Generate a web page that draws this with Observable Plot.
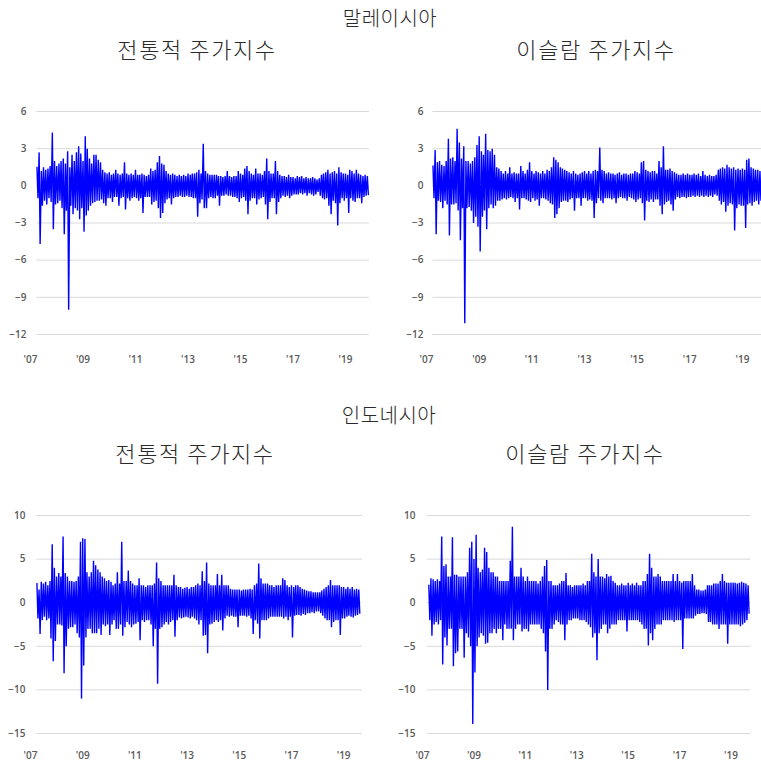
<!DOCTYPE html>
<html>
<head>
<meta charset="utf-8">
<script src="https://cdn.jsdelivr.net/npm/d3@7"></script>
<script src="https://cdn.jsdelivr.net/npm/@observablehq/plot@0.6"></script>
<style>
html, body { margin: 0; padding: 0; background: #ffffff; overflow: hidden; }
#root { position: relative; width: 761px; height: 765px; overflow: hidden; }
.t { position: absolute; transform: translate(-50%, -50%); white-space: nowrap;
     font-family: "Noto Sans CJK KR", "Noto Sans", sans-serif; color: #2a2a2a; line-height: 1; font-weight: 300; }
.ttl { font-size: 20px; letter-spacing: 0.5px; }
.sub { font-size: 22px; letter-spacing: 1.6px; }
.panel { position: absolute; }
.panel svg { max-width: none !important; display: block; }
</style>
</head>
<body>
<div id="root">
  <div class="t ttl" style="left:390px; top:18px;">말레이시아</div>
  <div class="t sub" style="left:197px; top:48px;">전통적 주가지수</div>
  <div class="t sub" style="left:596px; top:48px;">이슬람 주가지수</div>
  <div class="t ttl" style="left:389px; top:415px;">인도네시아</div>
  <div class="t sub" style="left:195px; top:452px;">전통적 주가지수</div>
  <div class="t sub" style="left:585px; top:452px;">이슬람 주가지수</div>
  <div class="panel" id="p1" style="left:0px; top:90px; width:380px; height:280px;"></div>
  <div class="panel" id="p2" style="left:390px; top:90px; width:390px; height:280px;"></div>
  <div class="panel" id="p3" style="left:0px; top:495px; width:380px; height:270px;"></div>
  <div class="panel" id="p4" style="left:390px; top:495px; width:380px; height:270px;"></div>
</div>
<script>
// Monthly extremes of daily returns (%), first value = April 2007.
// Malaysia – conventional index
const myConvUp = [
  1.5, 2.7, 1.2, 1.5, 1.3, 1.4, 1.6, 4.3, 2.0,
  1.6, 1.8, 2.0, 2.2, 1.8, 2.8, 1.5, 2.5, 2.0, 2.7, 3.2, 2.6,
  2.0, 4.0, 3.0, 2.2, 1.8, 2.5, 2.5, 2.1, 1.9, 1.3, 1.1, 1.0,
  1.1, 0.9, 1.0, 1.3, 1.0, 0.9, 1.0, 1.9, 1.0, 0.9, 1.0, 0.9,
  1.3, 0.9, 0.9, 1.0, 0.9, 0.8, 0.9, 1.4, 1.2, 1.3, 1.9, 2.4,
  1.8, 1.7, 1.2, 1.0, 0.9, 1.0, 0.9, 0.8, 0.9, 0.8, 0.9, 0.8,
  1.0, 0.9, 1.0, 1.0, 1.1, 1.3, 1.0, 3.4, 1.2, 1.0, 0.9, 0.9,
  0.9, 0.9, 0.8, 0.8, 0.7, 0.8, 1.2, 0.8, 0.7, 0.8, 0.8, 1.2,
  1.0, 0.9, 1.4, 1.6, 1.2, 1.0, 0.9, 1.4, 1.0, 1.0, 0.9, 1.2,
  2.2, 1.2, 1.0, 1.0, 2.0, 1.2, 0.9, 0.8, 0.8, 0.7, 0.9, 0.7,
  0.7, 0.6, 0.8, 0.7, 0.8, 0.6, 0.7, 0.6, 0.6, 0.7, 0.6, 0.5,
  0.6, 0.9, 1.0, 1.1, 1.3, 1.0, 1.1, 1.2, 1.0, 1.5, 1.1, 1.0,
  1.0, 0.9, 1.3, 1.2, 1.0, 1.3, 1.0, 0.9, 0.8, 0.9, 0.8
];
const myConvDown = [
  -1.0, -4.7, -1.6, -1.2, -1.5, -1.0, -1.3, -3.5, -1.5,
  -1.4, -1.2, -1.8, -3.9, -2.0, -10.0, -1.6, -2.3, -1.8, -2.0, -2.7, -1.8,
  -3.7, -2.4, -2.0, -1.6, -1.4, -1.3, -1.2, -1.2, -1.1, -1.4, -1.6, -1.0,
  -1.0, -1.3, -0.9, -0.9, -1.6, -1.0, -0.9, -1.9, -1.0, -1.2, -1.0, -0.9,
  -1.0, -1.2, -1.0, -2.2, -0.9, -0.9, -0.9, -1.5, -1.3, -1.2, -1.8, -2.6,
  -2.2, -1.4, -1.1, -1.0, -1.5, -1.0, -0.9, -0.9, -0.8, -0.9, -0.9, -0.8,
  -0.9, -0.9, -1.0, -1.0, -2.5, -1.4, -1.1, -1.8, -1.8, -1.0, -0.9, -1.0,
  -1.0, -0.8, -1.6, -0.8, -0.8, -0.7, -0.8, -0.8, -0.9, -0.9, -1.0, -1.3,
  -1.0, -0.9, -1.2, -2.3, -1.2, -1.0, -1.0, -1.5, -1.1, -1.0, -0.9, -1.5,
  -2.7, -1.3, -1.0, -1.0, -2.3, -1.3, -1.0, -0.8, -0.9, -0.8, -1.0, -0.8,
  -0.7, -0.7, -0.7, -0.6, -0.7, -0.6, -0.8, -0.6, -0.7, -0.8, -0.7, -0.5,
  -0.8, -1.0, -1.1, -1.0, -1.6, -2.3, -1.2, -1.4, -3.2, -1.4, -1.0, -1.2,
  -1.0, -2.2, -1.0, -1.2, -1.3, -1.0, -1.0, -1.4, -0.9, -0.8, -0.7
];
// Malaysia – Islamic index
const myIslUp = [
  1.6, 2.9, 1.9, 2.0, 1.7, 1.6, 2.0, 3.8, 2.2,
  2.3, 2.0, 4.6, 3.5, 2.2, 3.2, 2.0, 2.0, 1.8, 2.0, 2.3, 3.3,
  4.0, 2.8, 2.5, 4.2, 2.9, 2.8, 3.0, 2.5, 1.5, 1.4, 1.2, 1.0,
  1.2, 1.0, 1.5, 1.0, 1.1, 1.0, 1.0, 1.6, 1.2, 1.0, 1.3, 1.9,
  1.2, 1.0, 1.2, 1.1, 1.0, 1.2, 1.0, 1.3, 1.2, 1.5, 2.3, 2.1,
  1.9, 1.5, 1.4, 1.3, 1.2, 1.1, 1.0, 1.2, 1.0, 0.9, 1.0, 1.1,
  1.2, 1.0, 1.2, 1.0, 1.2, 1.3, 1.2, 3.1, 1.3, 1.2, 1.0, 1.1,
  1.0, 1.0, 0.9, 1.0, 1.1, 0.9, 1.0, 1.0, 0.9, 1.0, 1.0, 1.2,
  1.1, 1.0, 1.9, 2.0, 1.3, 1.2, 1.1, 1.2, 1.2, 1.0, 2.0, 1.5,
  3.2, 1.3, 1.3, 1.4, 1.2, 1.1, 1.0, 0.9, 0.9, 1.0, 0.9, 1.0,
  0.9, 0.9, 1.0, 0.9, 1.0, 0.8, 1.2, 0.9, 0.8, 0.9, 0.8, 0.8,
  0.9, 1.3, 1.4, 1.5, 1.4, 1.7, 1.5, 1.4, 1.5, 1.3, 1.4, 1.3,
  1.4, 1.3, 2.1, 2.2, 1.5, 1.4, 1.3, 1.3, 1.2, 1.2, 1.1
];
const myIslDown = [
  -1.0, -3.9, -1.2, -1.3, -1.8, -1.2, -1.5, -4.0, -1.5,
  -1.5, -1.4, -2.0, -4.4, -1.8, -11.1, -1.8, -1.7, -2.0, -3.0, -2.5, -3.3,
  -5.3, -2.5, -2.0, -3.5, -1.8, -1.5, -1.8, -1.6, -1.2, -1.2, -1.1, -1.0,
  -1.1, -1.0, -0.9, -1.0, -1.3, -1.0, -1.9, -1.0, -1.0, -1.1, -1.2, -1.3,
  -1.0, -1.2, -1.1, -1.6, -1.0, -1.0, -1.1, -1.2, -1.4, -1.5, -2.6, -2.3,
  -1.8, -1.3, -1.2, -1.2, -1.3, -1.1, -1.0, -2.0, -1.0, -1.0, -1.6, -1.0,
  -1.0, -1.2, -1.1, -1.2, -2.6, -1.4, -1.0, -1.2, -1.4, -1.0, -1.0, -1.0,
  -1.1, -1.0, -1.4, -1.0, -0.9, -1.0, -1.0, -1.2, -0.9, -1.0, -1.1, -1.3,
  -1.1, -1.0, -1.4, -2.8, -1.2, -1.3, -1.1, -1.3, -1.1, -1.1, -1.6, -2.3,
  -1.5, -1.3, -1.2, -1.5, -2.0, -1.1, -0.9, -1.0, -0.9, -0.9, -1.0, -0.9,
  -0.9, -0.8, -0.9, -0.8, -0.9, -0.8, -0.9, -0.8, -0.9, -0.8, -0.9, -0.7,
  -0.8, -1.2, -1.5, -1.3, -2.1, -1.6, -1.4, -1.5, -3.6, -1.8, -1.5, -1.6,
  -1.6, -3.4, -1.5, -1.4, -1.6, -1.3, -1.2, -1.5, -1.2, -1.1, -1.0
];
// Indonesia – conventional index
const idConvUp = [
  2.2, 1.5, 2.4, 2.2, 2.4, 2.0, 2.5, 6.7, 4.0,
  3.0, 3.4, 3.0, 7.6, 3.4, 3.0, 2.5, 2.5, 2.4, 2.5, 3.0, 7.0,
  7.4, 7.3, 3.5, 3.0, 3.5, 4.8, 4.3, 3.8, 3.5, 3.0, 2.8, 2.5,
  2.6, 2.4, 2.0, 2.2, 3.5, 2.2, 7.0, 2.5, 2.5, 3.7, 2.5, 2.2,
  2.0, 2.0, 2.8, 2.0, 2.0, 1.8, 2.0, 2.0, 2.0, 2.2, 4.6, 2.8,
  2.5, 2.0, 2.0, 2.0, 2.0, 2.0, 3.2, 2.0, 1.8, 1.8, 1.6, 1.7,
  1.8, 1.6, 1.8, 1.8, 2.0, 2.2, 2.0, 3.6, 2.5, 4.6, 2.2, 2.0,
  2.0, 2.0, 3.3, 2.0, 3.2, 2.0, 2.0, 2.0, 1.6, 1.5, 1.5, 1.5,
  1.5, 1.4, 1.5, 1.5, 1.5, 1.6, 1.5, 2.0, 2.2, 4.5, 2.8, 2.2,
  2.2, 2.2, 2.0, 2.0, 1.8, 2.0, 2.0, 2.0, 2.8, 2.6, 2.0, 1.8,
  2.0, 1.8, 2.0, 2.0, 1.8, 1.6, 1.5, 1.4, 1.3, 1.3, 1.2, 1.2,
  1.2, 1.2, 1.4, 1.6, 1.8, 2.0, 2.6, 2.0, 2.0, 2.0, 2.0, 1.8,
  1.8, 1.6, 1.8, 1.6, 1.8, 1.5, 1.6, 1.5
];
const idConvDown = [
  -1.8, -3.6, -2.0, -1.6, -2.0, -1.8, -4.1, -6.7, -4.4,
  -2.5, -2.5, -2.6, -8.1, -5.0, -3.0, -2.8, -2.8, -2.5, -3.5, -4.0, -11.0,
  -7.2, -4.0, -3.0, -3.0, -3.5, -3.5, -3.5, -3.0, -3.7, -2.5, -2.7, -2.5,
  -3.7, -2.5, -2.0, -3.0, -3.0, -2.5, -3.8, -2.8, -2.2, -2.5, -2.8, -2.5,
  -2.4, -2.2, -4.3, -2.0, -2.2, -2.0, -2.0, -2.5, -5.0, -3.0, -9.3, -3.0,
  -2.8, -2.5, -2.2, -2.5, -2.2, -2.0, -3.9, -2.0, -1.7, -1.8, -1.7, -1.6,
  -1.7, -1.8, -1.6, -1.8, -2.0, -2.5, -2.0, -3.8, -3.7, -5.8, -2.5, -2.4,
  -2.2, -2.0, -2.2, -2.0, -3.2, -1.8, -1.5, -1.6, -1.5, -1.6, -1.6, -2.8,
  -1.5, -1.5, -1.5, -1.6, -1.5, -1.8, -3.6, -2.0, -2.4, -4.1, -2.0, -2.0,
  -2.0, -1.8, -1.6, -1.6, -1.6, -1.6, -1.6, -1.6, -1.8, -1.6, -2.0, -1.6,
  -4.0, -1.5, -1.4, -1.4, -1.5, -1.3, -1.4, -1.2, -1.2, -1.1, -1.2, -1.0,
  -1.0, -1.2, -1.5, -1.8, -2.0, -2.0, -2.8, -2.2, -2.0, -2.0, -3.7, -1.8,
  -1.8, -1.6, -1.5, -1.6, -1.7, -1.5, -1.4, -1.2
];
// Indonesia – Islamic index
const idIslUp = [
  2.0, 2.8, 2.7, 2.5, 2.7, 2.5, 7.6, 4.2, 4.4,
  3.0, 3.0, 7.5, 3.2, 3.2, 3.0, 3.0, 3.0, 3.0, 3.5, 6.3, 7.0,
  5.0, 7.8, 4.0, 3.5, 3.8, 6.3, 5.8, 4.0, 3.5, 3.5, 3.0, 3.0,
  2.5, 2.5, 2.5, 2.5, 2.5, 4.8, 8.7, 3.0, 3.0, 3.0, 4.0, 3.0,
  2.5, 3.0, 2.5, 2.5, 2.5, 2.5, 2.2, 2.5, 3.0, 4.2, 4.9, 2.5,
  2.5, 2.0, 2.0, 2.0, 2.2, 2.5, 2.5, 3.4, 2.0, 2.0, 1.8, 2.0,
  2.0, 2.0, 2.0, 2.2, 2.0, 2.5, 2.5, 5.6, 3.5, 3.0, 5.0, 3.0,
  3.0, 2.8, 3.3, 3.0, 3.1, 2.5, 2.3, 2.0, 2.0, 2.2, 2.0, 2.0,
  2.3, 2.0, 2.2, 2.0, 2.3, 2.0, 2.0, 2.5, 2.5, 3.3, 5.6, 4.0,
  3.0, 3.0, 3.3, 3.0, 2.5, 2.5, 2.5, 2.5, 2.5, 3.3, 2.5, 3.3,
  2.5, 2.3, 2.5, 2.5, 2.5, 2.5, 3.3, 2.0, 1.5, 1.5, 1.4, 1.4,
  1.5, 2.0, 2.0, 2.0, 2.2, 2.2, 2.2, 2.5, 3.3, 2.5, 2.3, 2.3,
  2.3, 2.3, 2.3, 2.2, 2.3, 2.4, 2.3, 2.2, 2.0
];
const idIslDown = [
  -2.0, -3.8, -2.5, -2.2, -2.5, -2.0, -7.1, -4.0, -4.9,
  -3.0, -3.0, -7.3, -5.8, -5.6, -3.0, -3.0, -6.3, -3.5, -4.0, -5.0, -13.9,
  -8.0, -5.0, -4.0, -3.5, -3.8, -4.7, -4.6, -3.5, -3.5, -3.0, -3.5, -3.0,
  -3.0, -4.3, -2.5, -3.0, -3.0, -3.0, -4.3, -3.0, -2.5, -2.5, -3.3, -3.0,
  -3.0, -3.3, -2.5, -2.5, -2.5, -2.5, -2.5, -3.0, -3.5, -5.6, -10.0, -3.0,
  -3.0, -2.5, -2.0, -2.2, -2.5, -2.5, -4.3, -2.5, -2.0, -2.0, -1.8, -1.8,
  -1.8, -2.0, -2.0, -2.0, -2.2, -2.5, -2.8, -4.0, -3.5, -6.6, -3.5, -3.0,
  -2.5, -2.5, -3.5, -3.0, -2.5, -2.5, -2.5, -2.0, -2.0, -2.0, -2.0, -3.3,
  -2.0, -2.0, -2.0, -2.0, -2.0, -2.2, -2.5, -3.0, -3.0, -4.9, -3.5, -4.3,
  -3.0, -2.5, -2.5, -2.5, -2.0, -2.0, -2.0, -2.0, -2.0, -2.2, -2.0, -2.0,
  -2.0, -5.3, -1.8, -1.8, -1.8, -1.8, -1.8, -1.5, -1.3, -1.3, -1.2, -1.2,
  -1.3, -2.2, -2.2, -2.5, -2.5, -2.5, -3.0, -2.5, -2.5, -2.5, -4.7, -2.5,
  -2.5, -2.5, -2.5, -2.5, -2.7, -2.5, -2.3, -2.0, -1.2
];

const myTicks = [6, 3, 0, -3, -6, -9, -12];
const idTicks = [10, 5, 0, -5, -10, -15];
const yearTicks = [2007, 2009, 2011, 2013, 2015, 2017, 2019];

const U = (y, m, d) => new Date(Date.UTC(y, m, d));

function rows(up, down) {
  const out = [];
  up.forEach((u, i) => {
    out.push({date: U(2007, 3 + i, 1), value: u});
    out.push({date: U(2007, 3 + i, 15), value: down[i]});
  });
  return out;
}

function panel(id, o) {
  const data = rows(o.up, o.down);
  const chart = Plot.plot({
    width: o.width, height: o.height,
    marginTop: o.mt, marginBottom: o.mb, marginLeft: o.ml, marginRight: o.mr,
    style: {fontFamily: "'Open Sans', sans-serif", fontSize: "10px", color: "#5a5a5a",
            background: "transparent", overflow: "visible"},
    x: {type: "utc", domain: [U(2007, 0, 1), U(2019, 11, 1)], label: null},
    y: {domain: o.yDomain, label: null},
    marks: [
      Plot.ruleY(o.yTicks, {x1: () => o.gridStart, x2: () => o.gridEnd, stroke: "#d9d9d9", strokeWidth: 1}),
      Plot.line(data, {x: "date", y: "value", stroke: "#0000ff", strokeWidth: 1.4, strokeLinejoin: "miter", strokeMiterlimit: 1}),
      Plot.axisY({ticks: o.yTicks, tickSize: 0, tickPadding: o.pad, label: null, fontSize: 10, fontWeight: 600}),
      Plot.axisX({ticks: yearTicks.map(y => U(y, 0, 1)), tickSize: 0, tickPadding: o.xpad, label: null, fontSize: 10,
                  fontWeight: 600, tickFormat: d => "'" + String(d.getUTCFullYear()).slice(2)})
    ]
  });
  chart.style.maxWidth = "none";
  document.getElementById(id).appendChild(chart);
}

panel("p1", {up: myConvUp, down: myConvDown, width: 380, height: 280, mt: 21, mb: 36, ml: 30, mr: 11,
  yDomain: [-12, 6], yTicks: myTicks, pad: 4, xpad: 21, gridStart: U(2007, 3, 1), gridEnd: U(2019, 11, 1)});
panel("p2", {up: myIslUp, down: myIslDown, width: 390, height: 280, mt: 21, mb: 36, ml: 36, mr: 14,
  yDomain: [-12, 6], yTicks: myTicks, pad: 3, xpad: 21, gridStart: U(2007, 3, 1), gridEnd: U(2019, 11, 1)});
panel("p3", {up: idConvUp, down: idConvDown, width: 380, height: 270, mt: 20, mb: 32, ml: 30, mr: 13,
  yDomain: [-15, 10], yTicks: idTicks, pad: 5, xpad: 18, gridStart: U(2007, 3, 1), gridEnd: U(2019, 8, 20)});
panel("p4", {up: idIslUp, down: idIslDown, width: 380, height: 270, mt: 20, mb: 32, ml: 32, mr: 16,
  yDomain: [-15, 10], yTicks: idTicks, pad: 7, xpad: 18, gridStart: U(2007, 2, 10), gridEnd: U(2019, 9, 10)});
</script>
</body>
</html>
